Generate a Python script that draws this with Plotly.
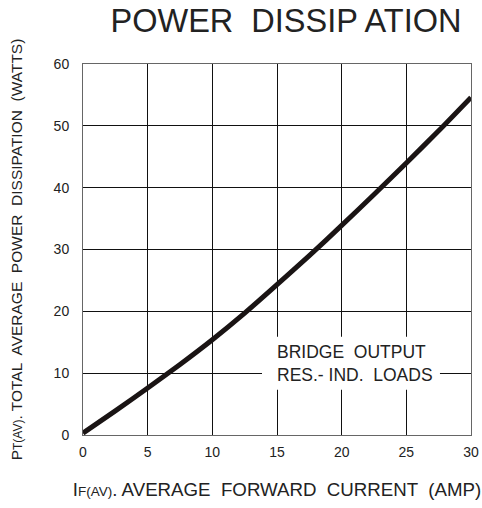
import plotly.graph_objects as go

current_amp = [0, 2.5, 5, 7.5, 10, 12.5, 15, 17.5, 20, 22.5, 25, 27.5, 30]
power_watts = [0.3, 3.9, 7.6, 11.4, 15.4, 19.7, 24.3, 29.0, 33.9, 38.9, 44.0, 49.2, 54.6]

x_ticks = [0, 5, 10, 15, 20, 25, 30]
y_ticks = [0, 10, 20, 30, 40, 50, 60]

FONT = "Liberation Sans, Arial, sans-serif"
W, H = 482, 508

# white label box that breaks the grid (data coordinates of its corners)
box_x = [13.84, 27.6]
box_y = [7.3, 15.9]

fig = go.Figure()
fig.add_trace(go.Scatter(
    x=current_amp, y=power_watts, mode="lines",
    line=dict(color="#1a1414", width=5, shape="spline", smoothing=0.6),
    showlegend=False, hoverinfo="skip",
))

fig.add_shape(type="rect", xref="x", yref="y",
              x0=box_x[0], x1=box_x[1], y0=box_y[0], y1=box_y[1],
              fillcolor="white", line=dict(width=0), layer="above")

fig.add_annotation(
    x=14.85, y=11.6, xref="x", yref="y", xanchor="left", yanchor="middle",
    text="BRIDGE  OUTPUT<br>RES.- IND.  LOADS",
    showarrow=False, align="left",
    font=dict(family=FONT, size=17.5, color="#222"),
)

fig.update_layout(
    width=W, height=H,
    margin=dict(l=83, r=11, t=64, b=73, autoexpand=False),
    paper_bgcolor="white", plot_bgcolor="white",
    font=dict(family=FONT, color="#222"),
    title=dict(text="POWER  DISSIP ATION", x=286 / W, xanchor="center",
               xref="container",
               y=1 - 21 / H, yref="container", yanchor="middle",
               font=dict(family=FONT, size=32.5, color="#222")),
    xaxis=dict(range=[0, 30], tickvals=x_ticks, showgrid=True,
               gridcolor="#111", gridwidth=1, zeroline=False,
               showline=True, linecolor="#666", linewidth=1, mirror=True,
               ticks="", ticklabelstandoff=4, automargin=False,
               tickfont=dict(family=FONT, size=14, color="#222"),
               title=dict(text="I<span style=\"font-size:13.5px\">F(AV)</span>. AVERAGE  FORWARD  CURRENT  (AMP)",
                          font=dict(family=FONT, size=18.7, color="#222"), standoff=24)),
    yaxis=dict(range=[0, 60], tickvals=y_ticks, showgrid=True,
               gridcolor="#111", gridwidth=1, zeroline=False,
               showline=True, linecolor="#666", linewidth=1, mirror=True,
               ticks="", ticklabelstandoff=10, automargin=False,
               tickfont=dict(family=FONT, size=14, color="#222"),
               title=dict(text="P<span style=\"font-size:12px\">T(AV)</span>. TOTAL  AVERAGE  POWER  DISSIPATION  (WATTS)",
                          font=dict(family=FONT, size=15.5, color="#222"), standoff=27)),
)

fig.write_html("out.html",
               config={"displayModeBar": False},
               post_script="document.body.style.margin='0';document.body.style.overflow='hidden';")
